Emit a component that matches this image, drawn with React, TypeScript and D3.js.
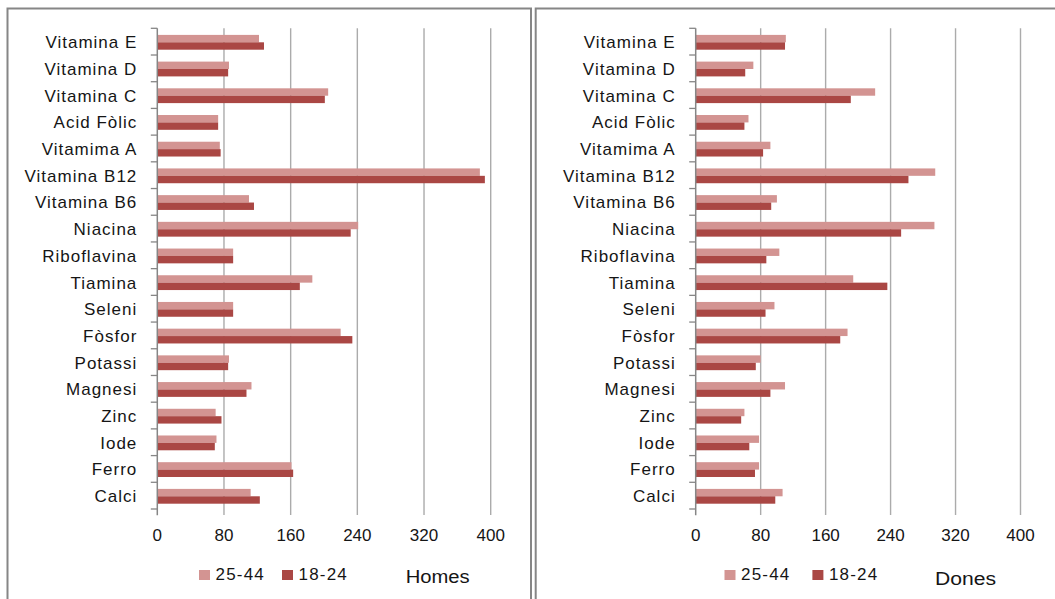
import React from "react";
import * as d3 from "d3";

const categories = [
  "Vitamina E", "Vitamina D", "Vitamina C", "Acid Fòlic", "Vitamima A",
  "Vitamina B12", "Vitamina B6", "Niacina", "Riboflavina", "Tiamina",
  "Seleni", "Fòsfor", "Potassi", "Magnesi", "Zinc", "Iode", "Ferro", "Calci",
];

const seriesNames = ["25-44", "18-24"];

const homes25_44 = [122, 86, 205, 73, 75, 387, 110, 241, 91, 186, 91, 220, 86, 113, 70, 71, 161, 112];
const homes18_24 = [128, 85, 201, 73, 76, 393, 116, 232, 91, 171, 91, 234, 85, 107, 77, 69, 163, 123];
const dones25_44 = [111, 71, 221, 65, 92, 295, 100, 294, 103, 194, 97, 187, 80, 110, 60, 78, 78, 107];
const dones18_24 = [110, 61, 191, 60, 83, 262, 93, 253, 87, 236, 86, 178, 74, 92, 56, 66, 73, 98];

const xTicks = [0, 80, 160, 240, 320, 400];

const COLORS: Record<string, string> = { "25-44": "#d39492", "18-24": "#aa4744" };
const FONT = "'Liberation Sans', Arial, sans-serif";
const TEXT = "#151515";

type PanelProps = {
  x0: number;
  x400: number;
  values: number[][];
  title: string;
  legend: { sq1: number; sq2: number; title: number; titleW: number; titleY: number };
};

function Panel({ x0, x400, values, title, legend }: PanelProps) {
  const top = 28.3;
  const bottom = 509;
  const x = d3.scaleLinear().domain([0, 400]).range([x0, x400]);
  const y = d3.scaleBand<string>().domain(categories).range([top, bottom]);
  const inner = d3.scaleBand<string>().domain(seriesNames).range([6.6, 21.4]);
  const bw = y.bandwidth();

  return (
    <g>
      {xTicks.slice(1).map((t) => (
        <line key={"g" + t} x1={x(t)} x2={x(t)} y1={top} y2={515} stroke="#ababab" strokeWidth={1.4} />
      ))}
      {categories.map((c, i) => (
        <g key={c}>
          {seriesNames.map((s, si) => (
            <rect
              key={s}
              x={x(0)}
              y={(y(c) as number) + (inner(s) as number)}
              width={x(values[si][i]) - x(0)}
              height={inner.bandwidth()}
              fill={COLORS[s]}
            />
          ))}
          <text
            x={x(0) - 20}
            y={(y(c) as number) + bw / 2 + 6.5}
            textAnchor="end"
            fontFamily={FONT}
            fontSize={17}
            letterSpacing={1}
            fill={TEXT}
          >
            {c}
          </text>
        </g>
      ))}
      {d3.range(categories.length + 1).map((k) => {
        const yy = top + k * bw;
        return <line key={"t" + k} x1={x(0) - 6.5} x2={x(0)} y1={yy} y2={yy} stroke="#868686" strokeWidth={1.3} />;
      })}
      <line x1={x(0)} x2={x(0)} y1={top} y2={515.3} stroke="#868686" strokeWidth={1.5} />
      {xTicks.map((t) => (
        <text key={"l" + t} x={x(t)} y={540.5} textAnchor="middle" fontFamily={FONT} fontSize={17} fill={TEXT}>
          {t}
        </text>
      ))}
      {seriesNames.map((s, si) => {
        const sx = si === 0 ? legend.sq1 : legend.sq2;
        return (
          <g key={"lg" + s}>
            <rect x={sx} y={570} width={11} height={10} fill={COLORS[s]} />
            <text x={sx + 16.5} y={580} fontFamily={FONT} fontSize={17} letterSpacing={1.2} fill={TEXT}>
              {s}
            </text>
          </g>
        );
      })}
      <text
        x={legend.title}
        y={legend.titleY}
        fontFamily={FONT}
        fontSize={17.5}
        textLength={legend.titleW}
        lengthAdjust="spacingAndGlyphs"
        fill={TEXT}
      >
        {title}
      </text>
    </g>
  );
}

export default function App() {
  return (
    <svg
      width={1055}
      height={599}
      style={{ position: "absolute", left: 0, top: 0, display: "block", background: "#fff" }}
    >
      <rect x={0} y={0} width={1055} height={599} fill="#fff" />
      <path d="M7.5,610 L7.5,8.5 L531,8.5 L531,610" fill="none" stroke="#868686" strokeWidth={2} />
      <path d="M535.7,610 L535.7,8.5 L1060,8.5" fill="none" stroke="#868686" strokeWidth={2} />
      <Panel
        x0={157.3}
        x400={490.7}
        values={[homes25_44, homes18_24]}
        title="Homes"
        legend={{ sq1: 199, sq2: 282, title: 405.7, titleW: 64, titleY: 583.3 }}
      />
      <Panel
        x0={695.7}
        x400={1020.5}
        values={[dones25_44, dones18_24]}
        title="Dones"
        legend={{ sq1: 724.5, sq2: 812.4, title: 935, titleW: 61, titleY: 585 }}
      />
    </svg>
  );
}
